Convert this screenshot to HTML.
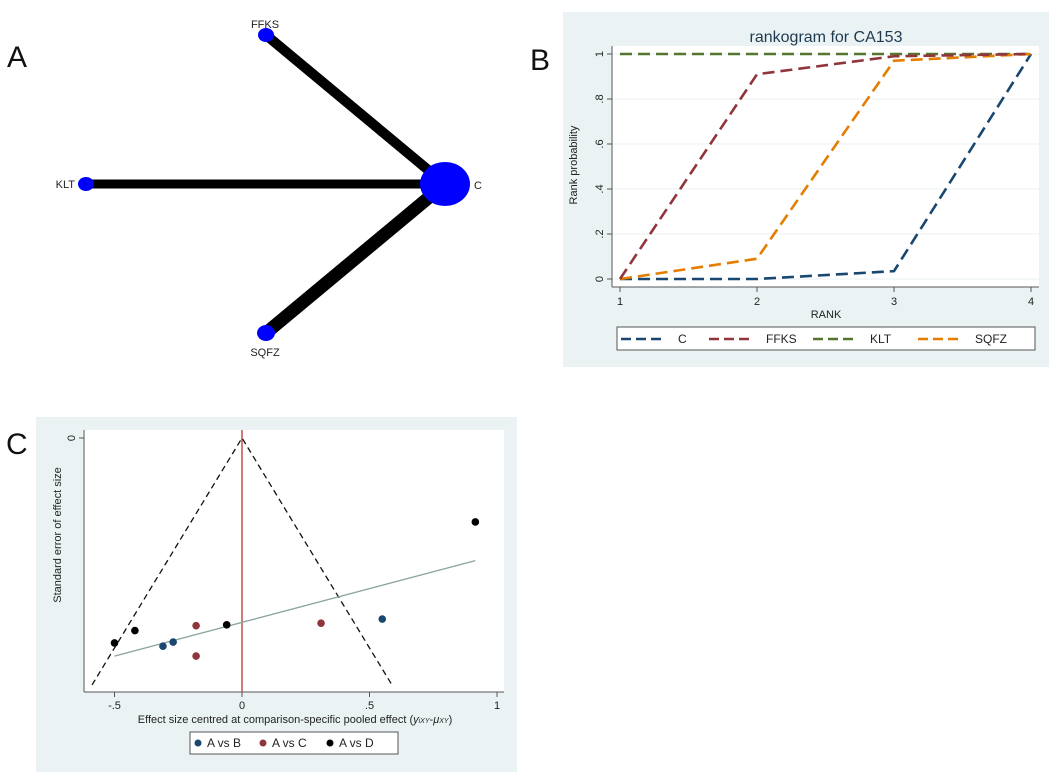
<!DOCTYPE html>
<html><head><meta charset="utf-8"><style>
body{margin:0;background:#fff;}
svg{display:block;font-family:"Liberation Sans",Arial,sans-serif;}
</style></head><body>
<svg width="1052" height="775" viewBox="0 0 1052 775">
<!-- Panel A -->
<g>
<text x="7" y="67" font-size="30" fill="#111">A</text>
<line x1="266" y1="35" x2="445" y2="184" stroke="#000" stroke-width="10"/>
<line x1="86" y1="184" x2="445" y2="184" stroke="#000" stroke-width="9"/>
<line x1="266" y1="333" x2="445" y2="184" stroke="#000" stroke-width="13"/>
<ellipse cx="266" cy="35" rx="8" ry="7" fill="#0000ff"/>
<ellipse cx="86" cy="184" rx="8" ry="7" fill="#0000ff"/>
<ellipse cx="445" cy="184" rx="25" ry="22" fill="#0000ff"/>
<ellipse cx="266" cy="333" rx="9" ry="8" fill="#0000ff"/>
<text x="265" y="28" font-size="11" text-anchor="middle" fill="#222">FFKS</text>
<text x="75" y="188" font-size="11" text-anchor="end" fill="#222">KLT</text>
<text x="474" y="189" font-size="11" fill="#222">C</text>
<text x="265" y="356" font-size="11" text-anchor="middle" fill="#222">SQFZ</text>
</g>
<!-- Panel B -->
<text x="530" y="70" font-size="30" fill="#111">B</text>
<g id="panelB"></g>
<!-- Panel C -->
<text x="6" y="454" font-size="30" fill="#111">C</text>
<g id="panelC"></g>
</svg>
<script>
const rankCats=[1,2,3,4];
const seriesNames=["C","FFKS","KLT","SQFZ"];
const seriesC=[0,0,0.035,1];
const seriesFFKS=[0,0.91,0.99,1];
const seriesKLT=[1,1,1,1];
const seriesSQFZ=[0,0.09,0.97,1];
const yTicksB=[0,0.2,0.4,0.6,0.8,1];
const yTickLabelsB=["0",".2",".4",".6",".8","1"];

const ptsBx=[-0.31,-0.27,0.55];
const ptsBse=[0.253,0.248,0.220];
const ptsCx=[-0.18,-0.18,0.31];
const ptsCse=[0.228,0.265,0.225];
const ptsDx=[-0.5,-0.42,-0.06,0.915];
const ptsDse=[0.249,0.234,0.227,0.102];
const regX=[-0.5,0.915];
const regSE=[0.265,0.149];
const xTicksC=[-0.5,0,0.5,1];
const xTickLabelsC=["-.5","0",".5","1"];
const funnelSE=0.30;

const NS="http://www.w3.org/2000/svg";
function mk(parent,tag,attrs){const e=document.createElementNS(NS,tag);for(const k in attrs)e.setAttribute(k,attrs[k]);parent.appendChild(e);return e;}

// Panel B
(function(){
const g=document.getElementById('panelB');
const bx=x=>620+(x-1)*(1031-620)/3;
const by=v=>279-v*(279-54);
let r=mk(g,'rect',{x:563,y:12,width:486,height:355,fill:'#eaf2f3'});

r=mk(g,'rect',{x:612,y:46,width:427,height:241,fill:'#fff'});

let t=mk(g,'text',{x:826,y:42,'font-size':16,'text-anchor':'middle',fill:'#1e3a50'});t.textContent='rankogram for CA153';

yTicksB.forEach((v,i)=>{
 const l=mk(g,'line',{x1:612,x2:1039,y1:by(v),y2:by(v),stroke:'#eaf2f3','stroke-width':1});
 
 const tk=mk(g,'line',{x1:607,x2:612,y1:by(v),y2:by(v),stroke:'#555'});
 
 const lb=mk(g,'text',{x:0,y:0,'font-size':11,'text-anchor':'middle',fill:'#222',transform:`translate(603,${by(v)}) rotate(-90)`});
 lb.textContent=yTickLabelsB[i];
 
});
let ax=mk(g,'line',{x1:612,x2:612,y1:46,y2:287,stroke:'#555'});
ax=mk(g,'line',{x1:612,x2:1039,y1:287,y2:287,stroke:'#555'});
rankCats.forEach(c=>{
 const tk=mk(g,'line',{x1:bx(c),x2:bx(c),y1:287,y2:292,stroke:'#555'});
 
 const lb=mk(g,'text',{x:bx(c),y:305,'font-size':11,'text-anchor':'middle',fill:'#222'});lb.textContent=c;
 
});
t=mk(g,'text',{x:826,y:318,'font-size':11,'text-anchor':'middle',fill:'#222'});t.textContent='RANK';

t=mk(g,'text',{x:0,y:0,'font-size':11,'text-anchor':'middle',fill:'#222',transform:'translate(577,165) rotate(-90)'});t.textContent='Rank probability';

const colors=['#1a476f','#90353b','#55752f','#e37e00'];
const data=[seriesC,seriesFFKS,seriesKLT,seriesSQFZ];
[2,0,3,1].forEach(i=>{
 const d=data[i].map((v,j)=>(j?'L':'M')+bx(rankCats[j])+','+by(v)).join(' ');
 const p=mk(g,'path',{d:d,fill:'none',stroke:colors[i],'stroke-width':2.6,'stroke-dasharray':'12,6'});
 
});
r=mk(g,'rect',{x:617,y:327,width:418,height:23,fill:'#fff',stroke:'#555'});

const lx=[621,709,813,918];
seriesNames.forEach((n,i)=>{
 const l=mk(g,'line',{x1:lx[i],x2:lx[i]+45,y1:339,y2:339,stroke:colors[i],'stroke-width':2.6,'stroke-dasharray':'10,5'});
 
 const tx=mk(g,'text',{x:lx[i]+57,y:343,'font-size':12,fill:'#222'});tx.textContent=n;
 
});
})();

// Panel C
(function(){
const g=document.getElementById('panelC');
const cx=x=>242+x*255;
const cy=s=>438+s*823;
let r=mk(g,'rect',{x:36,y:417,width:481,height:355,fill:'#eaf2f3'});

r=mk(g,'rect',{x:84,y:430,width:420,height:262,fill:'#fff'});

let ax=mk(g,'line',{x1:84,x2:84,y1:430,y2:692,stroke:'#555'});
ax=mk(g,'line',{x1:84,x2:504,y1:692,y2:692,stroke:'#555'});
let tk=mk(g,'line',{x1:79,x2:84,y1:cy(0),y2:cy(0),stroke:'#555'});
let t=mk(g,'text',{x:0,y:0,'font-size':11,'text-anchor':'middle',fill:'#222',transform:`translate(75,${cy(0)}) rotate(-90)`});t.textContent='0';

xTicksC.forEach((v,i)=>{
 const k=mk(g,'line',{x1:cx(v),x2:cx(v),y1:692,y2:697,stroke:'#555'});
 const lb=mk(g,'text',{x:cx(v),y:709,'font-size':11,'text-anchor':'middle',fill:'#222'});lb.textContent=xTickLabelsC[i];
 
});
t=mk(g,'text',{x:295,y:723,'font-size':11,'text-anchor':'middle',fill:'#222'});
t.innerHTML='Effect size centred at comparison-specific pooled effect (<tspan font-style="italic">y</tspan><tspan font-size="7" font-style="italic">iXY</tspan>-<tspan font-style="italic">μ</tspan><tspan font-size="7" font-style="italic">XY</tspan>)';

t=mk(g,'text',{x:0,y:0,'font-size':11,'text-anchor':'middle',fill:'#222',transform:'translate(61,535) rotate(-90)'});t.textContent='Standard error of effect size';

let l=mk(g,'line',{x1:cx(0),x2:cx(0),y1:430,y2:692,stroke:'#c0504d','stroke-width':1.5});

l=mk(g,'path',{d:`M${cx(-1.96*funnelSE)},${cy(funnelSE)} L${cx(0)},${cy(0)} L${cx(1.96*funnelSE)},${cy(funnelSE)}`,fill:'none',stroke:'#111','stroke-width':1.3,'stroke-dasharray':'6,4'});

l=mk(g,'line',{x1:cx(regX[0]),y1:cy(regSE[0]),x2:cx(regX[1]),y2:cy(regSE[1]),stroke:'#8aa59a','stroke-width':1.3});

const groups=[[ptsBx,ptsBse,'#1a476f','a-vs-b'],[ptsCx,ptsCse,'#90353b','a-vs-c'],[ptsDx,ptsDse,'#000','a-vs-d']];
groups.forEach(gr=>{gr[0].forEach((x,i)=>{
 const c=mk(g,'circle',{cx:cx(x),cy:cy(gr[1][i]),r:3.8,fill:gr[2]});
 
});});
r=mk(g,'rect',{x:190,y:732,width:208,height:22,fill:'#fff',stroke:'#555'});

const names=['A vs B','A vs C','A vs D'];const lx=[198,263,330];
groups.forEach((gr,i)=>{
 const c=mk(g,'circle',{cx:lx[i],cy:743,r:3.5,fill:gr[2]});
 const tx=mk(g,'text',{x:lx[i]+9,y:747,'font-size':12,fill:'#222'});tx.textContent=names[i];
 
});
})();
</script>
</body></html>
